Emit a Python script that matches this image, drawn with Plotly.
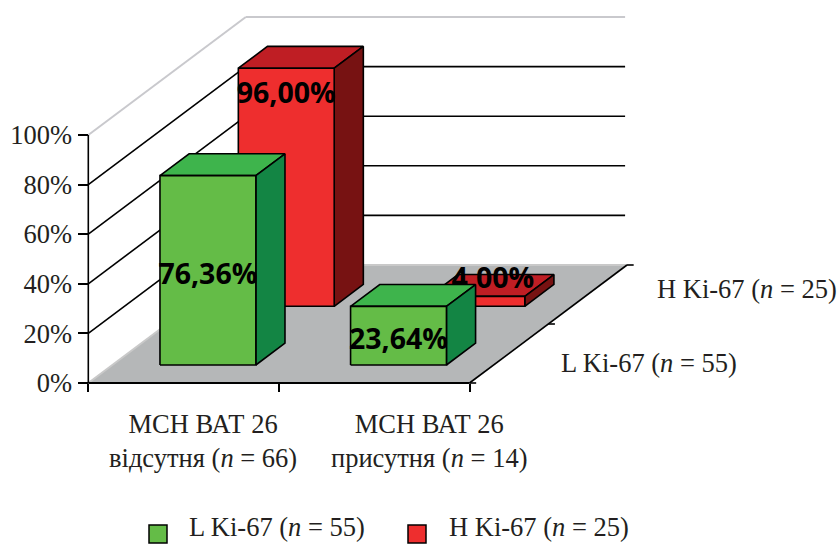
import plotly.graph_objects as go

# Chart data
categories = ["МСН ВАТ 26<br>відсутня (<i>n</i> = 66)", "МСН ВАТ 26<br>присутня (<i>n</i> = 14)"]
series_names = ["L Ki-67 (<i>n</i> = 55)", "H Ki-67 (<i>n</i> = 25)"]
low_ki67 = [76.36, 23.64]
high_ki67 = [96.00, 4.00]
percent_ticks = [0, 20, 40, 60, 80, 100]

# Canvas and oblique projection settings (pixels)
W, H = 839, 544
ORIGIN_X, ORIGIN_Y = 88.3, 383.0
PX_PER_CATEGORY = 190.6
PX_PER_PERCENT = 2.48
DEPTH_X = 157.5 / PX_PER_CATEGORY   # screen shift of the full depth, in category units
DEPTH_Y = 118.0 / PX_PER_PERCENT    # screen shift of the full depth, in percent units

BAR_LEFT, BAR_RIGHT = 0.25, 0.753
SERIES_DEPTH = [0.245, 0.7425]
BAR_HALF_DEPTH = 0.0925

INK = "#231f20"
SERIF = "Liberation Serif"
LABEL_FONT = dict(family="Open Sans", size=28.5, color="#000000", weight="bold")


def project(cat, depth, value):
    return cat + depth * DEPTH_X, value + depth * DEPTH_Y


def polygon(corners, fill, line="#000000", width=1.6):
    xs, ys = zip(*[project(*c) for c in corners + corners[:1]])
    return go.Scatter(x=xs, y=ys, mode="lines", fill="toself", fillcolor=fill,
                      line=dict(color=line, width=width), hoverinfo="skip", showlegend=False)


def segment(a, b, color="#000000", width=1.6):
    xs, ys = zip(project(*a), project(*b))
    return go.Scatter(x=xs, y=ys, mode="lines", line=dict(color=color, width=width),
                      hoverinfo="skip", showlegend=False)


def box(cat, series, value, front, top, side):
    x0, x1 = cat + BAR_LEFT, cat + BAR_RIGHT
    d0, d1 = SERIES_DEPTH[series] - BAR_HALF_DEPTH, SERIES_DEPTH[series] + BAR_HALF_DEPTH
    return [
        polygon([(x0, d0, value), (x1, d0, value), (x1, d1, value), (x0, d1, value)], top),
        polygon([(x1, d0, 0), (x1, d1, 0), (x1, d1, value), (x1, d0, value)], side),
        polygon([(x0, d0, 0), (x1, d0, 0), (x1, d0, value), (x0, d0, value)], front),
    ]


def value_label(cat, series, level, text, shift=0.0):
    x, y = project(cat + (BAR_LEFT + BAR_RIGHT) / 2 + shift,
                   SERIES_DEPTH[series] - BAR_HALF_DEPTH, level)
    return go.Scatter(x=[x], y=[y], mode="text", text=[text], textposition="middle center",
                      textfont=LABEL_FONT, hoverinfo="skip", showlegend=False, cliponaxis=False)


def fmt(v):
    return f"{v:.2f}".replace(".", ",") + "%"


fig = go.Figure()

# Floor
fig.add_trace(polygon([(0, 0, 0), (2, 0, 0), (2, 1, 0), (0, 1, 0)], "#b5b7b8", line="rgba(0,0,0,0)", width=0))
fig.add_trace(segment((0, 0, 0), (0, 1, 0), "#c9c9c9", 2))
fig.add_trace(segment((0, 1, 0), (2, 1, 0), "#c9c9c9", 2))

# Wall gridlines
for p in percent_ticks[1:]:
    color = "#c9c9cd" if p == 100 else "#000000"
    fig.add_trace(segment((0, 0, p), (0, 1, p), color, 2 if p == 100 else 1.6))
    fig.add_trace(segment((0, 1, p), (1.99, 1, p), color, 2 if p == 100 else 1.6))

# Axis edges and depth ticks
fig.add_trace(segment((0, 0, 0), (0, 0, 100)))
fig.add_trace(segment((0, 0, 0), (2, 0, 0), "#000000", 2))
fig.add_trace(segment((2, 0, 0), (2, 1, 0)))
for d in (0, 0.5, 1):
    fig.add_trace(segment((2, d, 0), (2.035, d, 0)))

# Bars, back row first
GREEN = ("#64bc47", "#3eb44c", "#138544")
RED = ("#ee2e2e", "#bf1e24", "#771212")
red_label_levels = [84.7, 10.4]
red_label_shifts = [0.0, 0.084]
green_label_levels = [low_ki67[0] * 0.5 - 2.5, low_ki67[1] * 0.5 - 2.5]

for i, v in enumerate(high_ki67):
    for t in box(i, 1, v, *RED):
        fig.add_trace(t)
    fig.add_trace(value_label(i, 1, red_label_levels[i], fmt(v), red_label_shifts[i]))

for i, v in enumerate(low_ki67):
    for t in box(i, 0, v, *GREEN):
        fig.add_trace(t)
for i, v in enumerate(low_ki67):
    fig.add_trace(value_label(i, 0, green_label_levels[i], fmt(v)))


def px_x(px):
    return (px - ORIGIN_X) / PX_PER_CATEGORY


def px_y(py):
    return (ORIGIN_Y - py) / PX_PER_PERCENT


# Legend keys
for px, color in zip((158, 417), (GREEN[0], RED[0])):
    fig.add_trace(go.Scatter(x=[px_x(px)], y=[px_y(534)], mode="markers", cliponaxis=False,
                             marker=dict(symbol="square", size=18, color=color,
                                         line=dict(color="#000000", width=1.5)),
                             hoverinfo="skip", showlegend=False))

annotations = []


def note(text, px, py, anchor="center", size=26.5):
    annotations.append(dict(x=px / W, y=1 - py / H, xref="paper", yref="paper", text=text,
                            showarrow=False, xanchor=anchor, yanchor="middle", align="center",
                            font=dict(family=SERIF, size=size, color=INK)))


note(categories[0], 202.5, 441)
note(categories[1], 429, 441)
note(series_names[1], 839, 289, "right")
note(series_names[0], 739, 363, "right")
note(series_names[0], 187, 526.5, "left")
note(series_names[1], 447, 526.5, "left")

fig.update_layout(
    width=W, height=H, margin=dict(l=0, r=0, t=0, b=0),
    paper_bgcolor="#ffffff", plot_bgcolor="#ffffff", showlegend=False,
    annotations=annotations,
    xaxis=dict(range=[px_x(0), px_x(W)], domain=[0, 1], anchor="free",
               position=1 - ORIGIN_Y / H, tickmode="array", tickvals=[0, 1, 2],
               showticklabels=False, ticks="outside", ticklen=8, tickwidth=1.6,
               tickcolor="#000000", showgrid=False, zeroline=False, showline=False),
    yaxis=dict(range=[px_y(H), px_y(0)], domain=[0, 1], anchor="free",
               position=ORIGIN_X / W, tickmode="array", tickvals=percent_ticks,
               ticktext=[f"{p}%" for p in percent_ticks], ticks="outside", ticklen=10,
               tickwidth=1.6, tickcolor="#000000", ticklabelstandoff=1,
               tickfont=dict(family=SERIF, size=26.5, color=INK),
               showgrid=False, zeroline=False, showline=False),
)

fig.write_html("out.html", config=dict(displayModeBar=False))
